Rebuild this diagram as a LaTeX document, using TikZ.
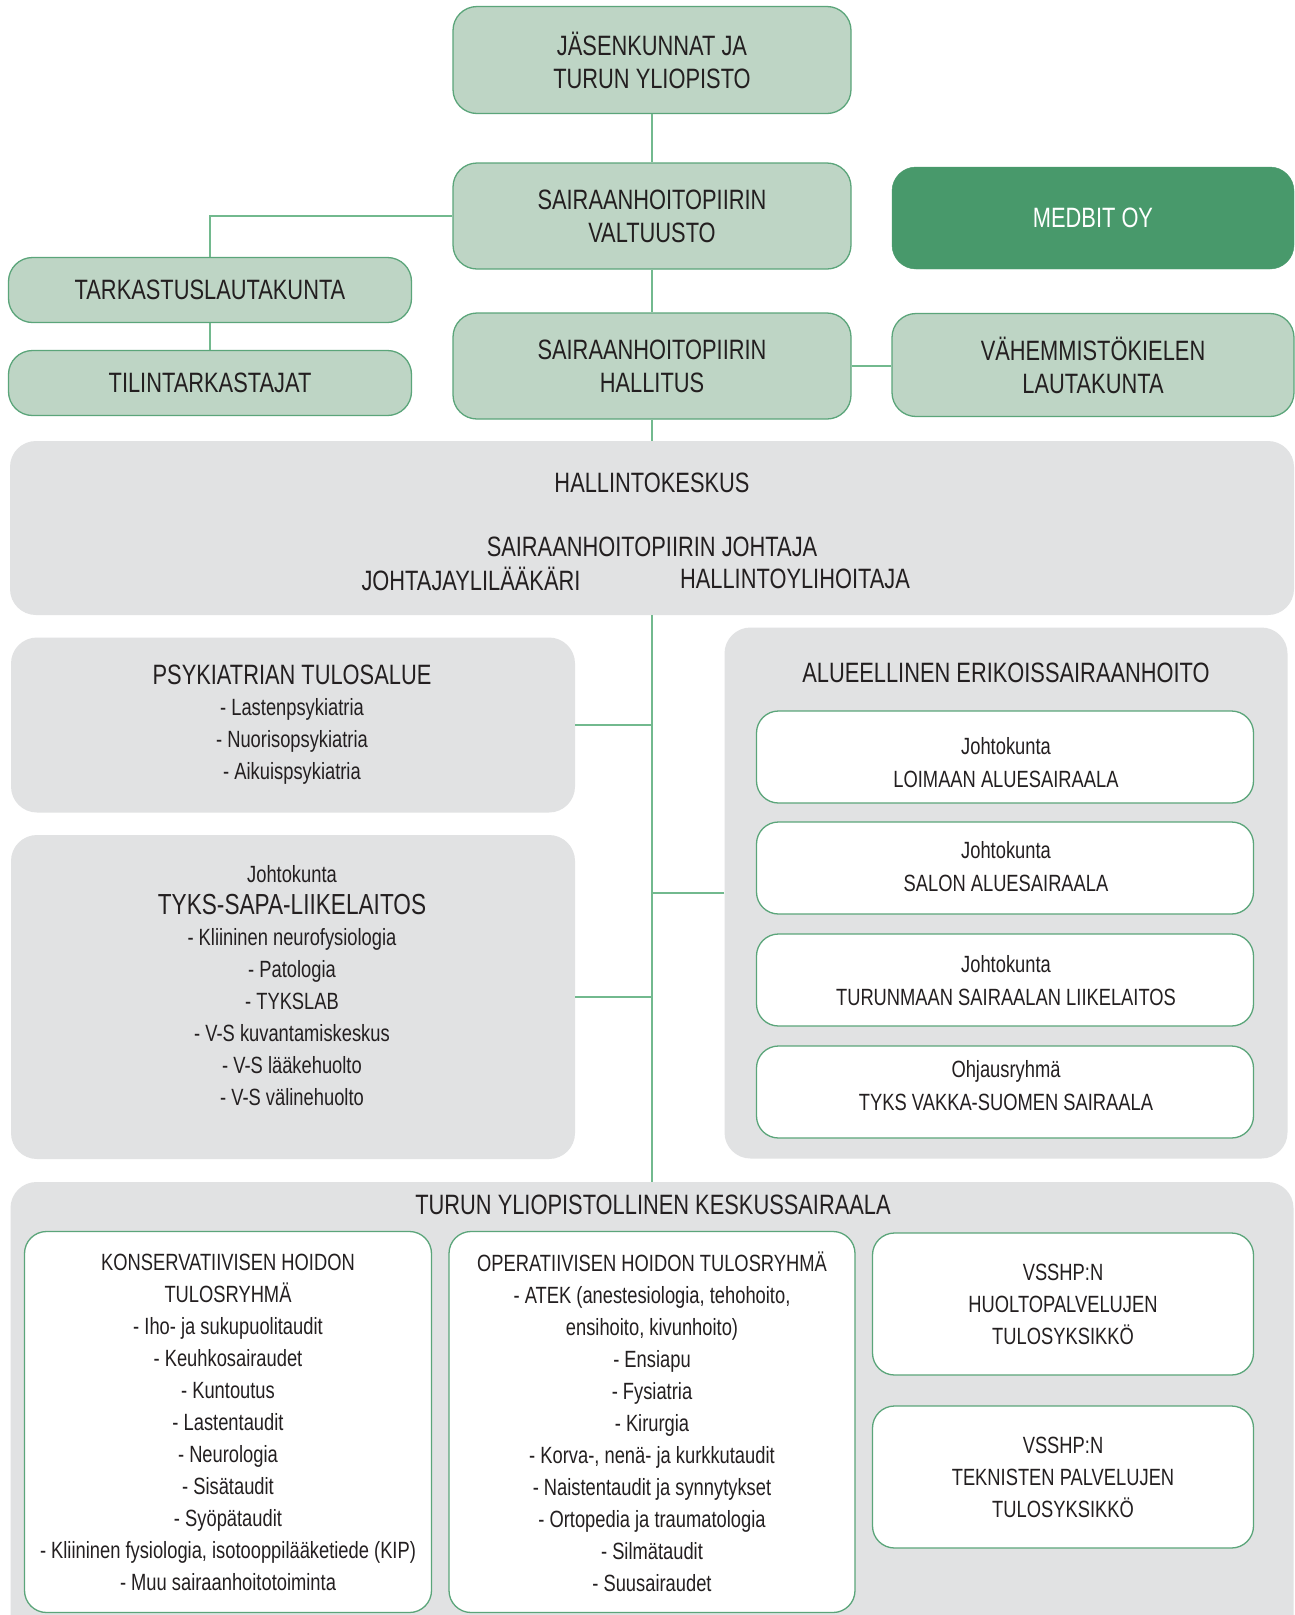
\documentclass[tikz,border=0pt]{standalone}
\usepackage{fontspec}
\setmainfont{Liberation Sans}[FakeStretch=0.78]
\definecolor{boxfill}{HTML}{BED5C5}
\definecolor{boxline}{HTML}{5BA57A}
\definecolor{medbit}{HTML}{48996B}
\definecolor{panel}{HTML}{E1E2E3}
\definecolor{linkc}{HTML}{72B98E}
\definecolor{ink}{HTML}{231F20}
\newcommand\fbig{\fontsize{28}{33}\selectfont}
\newcommand\fhead{\fontsize{28}{32}\selectfont}
\newcommand\flist{\fontsize{23.5}{32}\selectfont}
\newcommand\finner{\fontsize{23.5}{33}\selectfont}
\newcommand\fsapa{\fontsize{29}{33}\selectfont}
\begin{document}
\begin{tikzpicture}[
        x=1pt, y=-1pt,
        text=ink
    ]
    \tikzset{
        greenbox/.style = {rectangle, rounded corners=24, draw=boxline, line width=1.3, fill=boxfill, align=center, inner sep=0, font=\fbig},
        darkbox/.style = {rectangle, rounded corners=24, draw=medbit, fill=medbit, align=center, inner sep=0, font=\fbig, text=white},
        greypanel/.style = {rectangle, rounded corners=26, fill=panel, inner sep=0},
        whitebox/.style = {rectangle, rounded corners=22, draw=boxline, line width=1.3, fill=white, align=center, inner sep=0, font=\finner},
        plain/.style = {align=center, inner sep=0},
        link/.style = {-, draw=linkc, line width=1.8},
    }
    \clip (0,0) rectangle (1295,1615);
    \fill[white] (0,0) rectangle (1295,1615);
    % governance
    \node[greenbox, minimum width=398, minimum height=107] at (652,60) (jasen) {JÄSENKUNNAT JA\\TURUN YLIOPISTO};
    \node[greenbox, minimum width=398, minimum height=106] at (652,216) (valtuusto) {SAIRAANHOITOPIIRIN\\VALTUUSTO};
    \node[greenbox, minimum width=398, minimum height=106] at (652,366) (hallitus) {SAIRAANHOITOPIIRIN\\HALLITUS};
    \node[darkbox, minimum width=402, minimum height=102] at (1093,218) (medbit) {MEDBIT OY};
    \node[greenbox, minimum width=402, minimum height=103] at (1093,365) (vahem) {VÄHEMMISTÖKIELEN\\LAUTAKUNTA};
    \node[greenbox, minimum width=403, minimum height=65] at (210,290) (tarkastus) {TARKASTUSLAUTAKUNTA};
    \node[greenbox, minimum width=403, minimum height=65] at (210,383) (tilin) {TILINTARKASTAJAT};
    %
    \node[greypanel, minimum width=1284, minimum height=174] at (652,528) (hallinto) {};
    \node[plain, font=\fbig] at (652,483) (hk) {HALLINTOKESKUS};
    \node[plain, font=\fbig] at (652,547) (johtaja) {SAIRAANHOITOPIIRIN JOHTAJA};
    \node[plain, font=\fbig] at (471,579) (jyl) {JOHTAJAYLILÄÄKÄRI};
    \node[plain, font=\fbig] at (795,579) (hyh) {HALLINTOYLIHOITAJA};
    % tulosalueet
    \node[greypanel, minimum width=564, minimum height=175] at (293,725) (psyk) {};
    \node[plain, font=\fhead] at (292,675) (psyk-t) {PSYKIATRIAN TULOSALUE};
    \node[plain, font=\flist] at (292,741) (psyk-l) {- Lastenpsykiatria\\- Nuorisopsykiatria\\- Aikuispsykiatria};
    %
    \node[greypanel, minimum width=564, minimum height=324] at (293,997) (sapa) {};
    \node[plain, font=\flist] at (292,874) (sapa-j) {Johtokunta};
    \node[plain, font=\fsapa] at (292,905) (sapa-t) {TYKS-SAPA-LIIKELAITOS};
    \node[plain, font=\flist] at (292,1017) (sapa-l) {- Kliininen neurofysiologia\\- Patologia\\- TYKSLAB\\- V-S kuvantamiskeskus\\- V-S lääkehuolto\\- V-S välinehuolto};
    %
    \node[greypanel, minimum width=563, minimum height=531] at (1006,893) (alue) {};
    \node[plain, font=\fhead] at (1006,673) (alue-t) {ALUEELLINEN ERIKOISSAIRAANHOITO};
    \node[whitebox, minimum width=497, minimum height=92] at (1005,757) (loimaa) {};
    \node[whitebox, minimum width=497, minimum height=92] at (1005,868) (salo) {};
    \node[whitebox, minimum width=497, minimum height=92] at (1005,980) (turunmaa) {};
    \node[whitebox, minimum width=497, minimum height=92] at (1005,1092) (vakka) {};
    \node[plain, font=\finner] at (1006,763) (loimaa-t) {Johtokunta\\LOIMAAN ALUESAIRAALA};
    \node[plain, font=\finner] at (1006,867) (salo-t) {Johtokunta\\SALON ALUESAIRAALA};
    \node[plain, font=\finner] at (1006,981) (turunmaa-t) {Johtokunta\\TURUNMAAN SAIRAALAN LIIKELAITOS};
    \node[plain, font=\finner] at (1006,1086) (vakka-t) {Ohjausryhmä\\TYKS VAKKA-SUOMEN SAIRAALA};
    % tyks
    \node[greypanel, minimum width=1283, minimum height=480] at (652,1422) (tyks) {};
    \node[plain, font=\fhead] at (653,1205) (tyks-t) {TURUN YLIOPISTOLLINEN KESKUSSAIRAALA};
    \node[whitebox, font=\flist, minimum width=407, minimum height=381] at (228,1422) (kons) {KONSERVATIIVISEN HOIDON\\TULOSRYHMÄ\\- Iho- ja sukupuolitaudit\\- Keuhkosairaudet\\- Kuntoutus\\- Lastentaudit\\- Neurologia\\- Sisätaudit\\- Syöpätaudit\\- Kliininen fysiologia, isotooppilääketiede (KIP)\\- Muu sairaanhoitotoiminta};
    \node[whitebox, font=\flist, minimum width=406, minimum height=381] at (652,1422) (oper) {OPERATIIVISEN HOIDON TULOSRYHMÄ\\- ATEK (anestesiologia, tehohoito,\\ensihoito, kivunhoito)\\- Ensiapu\\- Fysiatria\\- Kirurgia\\- Korva-, nenä- ja kurkkutaudit\\- Naistentaudit ja synnytykset\\- Ortopedia ja traumatologia\\- Silmätaudit\\- Suusairaudet};
    \node[whitebox, font=\flist, minimum width=381, minimum height=142] at (1063,1304) (huolto) {VSSHP:N\\HUOLTOPALVELUJEN\\TULOSYKSIKKÖ};
    \node[whitebox, font=\flist, minimum width=381, minimum height=142] at (1063,1477) (tekn) {VSSHP:N\\TEKNISTEN PALVELUJEN\\TULOSYKSIKKÖ};
    %
    \draw[link] (jasen.south) -- (valtuusto.north);
    \draw[link] (valtuusto.south) -- (hallitus.north);
    \draw[link] (hallitus.east) -- (hallitus.east -| vahem.west);
    \draw[link] (valtuusto.west) -| (tarkastus.north);
    \draw[link] (tarkastus.south) -- (tilin.north);
    \draw[link] (hallitus.south) -- (hallinto.north);
    %
    \draw[link] (hallinto.south) -- (tyks.north);
    \draw[link] (psyk.east) -- (psyk.east -| hallinto.south);
    \draw[link] (sapa.east) -- (sapa.east -| hallinto.south);
    \draw[link] (alue.west) -- (alue.west -| hallinto.south);
\end{tikzpicture}
\end{document}
